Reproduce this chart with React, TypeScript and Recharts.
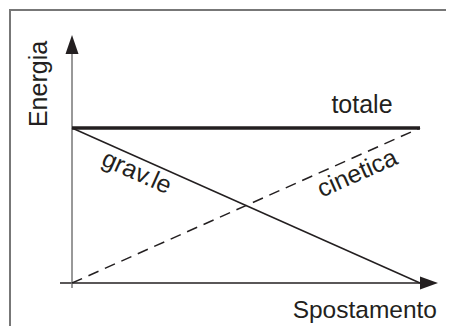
import React from "react";
import {
  LineChart,
  Line,
  XAxis,
  YAxis,
  ReferenceLine,
  Customized,
} from "recharts";

// positions along the displacement (normalised)
const spostamento = [0, 1];
// energy curves (normalised, totale = grav.le + cinetica)
const totale = [1, 1];
const gravitazionale = [1, 0];
const cinetica = [0, 1];

const data = spostamento.map((s, i) => ({
  s,
  totale: totale[i],
  grav: gravitazionale[i],
  cinetica: cinetica[i],
}));

const INK = "#231f20";
const FONT = "'Liberation Sans', Arial, sans-serif";

// axis line with an arrow head at its far end
function ArrowAxis(props: any) {
  const { x1, y1, x2, y2 } = props;
  const horizontal = Math.abs(x2 - x1) > Math.abs(y2 - y1);
  if (horizontal) {
    const left = Math.min(x1, x2);
    const tip = Math.max(x1, x2);
    const y = y1;
    return (
      <g>
        <line x1={left} y1={y} x2={tip - 10} y2={y} stroke={INK} strokeWidth={1.5} />
        <polygon points={`${tip},${y} ${tip - 18},${y - 6.5} ${tip - 18},${y + 6.5}`} fill={INK} />
      </g>
    );
  }
  const bottom = Math.max(y1, y2);
  const tip = Math.min(y1, y2);
  const x = x1;
  return (
    <g>
      <line x1={x} y1={bottom} x2={x} y2={tip + 10} stroke="#777" strokeWidth={1.5} />
      <polygon points={`${x},${tip} ${x - 6.5},${tip + 19} ${x + 6.5},${tip + 19}`} fill={INK} />
    </g>
  );
}

function Labels() {
  const t = { fontFamily: FONT, fontSize: 25, fill: INK };
  return (
    <g>
      <text {...t} transform="translate(47,84) rotate(-90)" textAnchor="middle">
        Energia
      </text>
      <text {...t} x={362} y={113} textAnchor="middle">
        totale
      </text>
      <text {...t} transform="translate(136,174) rotate(24)" y={6} textAnchor="middle">
        grav.le
      </text>
      <text {...t} transform="translate(358,175) rotate(-24)" y={6} textAnchor="middle">
        cinetica
      </text>
      <text {...t} fontSize={24.5} x={437} y={318} textAnchor="end">
        Spostamento
      </text>
    </g>
  );
}

export default function App() {
  return (
    <div style={{ position: "relative", margin: -8, width: 454, height: 334, overflow: "hidden", background: "#fff" }}>
      <div
        style={{
          position: "absolute",
          left: 9,
          top: 9,
          width: 470,
          height: 350,
          borderTop: "2px solid #777",
          borderLeft: "2px solid #777",
        }}
      />
      <div style={{ position: "absolute", left: 0, top: 0 }}>
        <LineChart
          width={454}
          height={334}
          data={data}
          margin={{ top: 35, right: 16, bottom: 46, left: 60 }}
        >
          <XAxis dataKey="s" type="number" domain={[-0.0345, 1.0517]} hide />
          <YAxis type="number" domain={[-0.032, 1.6]} hide />
          <ReferenceLine y={0} shape={<ArrowAxis />} ifOverflow="visible" />
          <ReferenceLine x={0} shape={<ArrowAxis />} ifOverflow="visible" />
          <Line
            dataKey="totale"
            stroke={INK}
            strokeWidth={3.5}
            dot={false}
            isAnimationActive={false}
          />
          <Line
            dataKey="grav"
            stroke={INK}
            strokeWidth={1.5}
            dot={false}
            isAnimationActive={false}
          />
          <Line
            dataKey="cinetica"
            stroke={INK}
            strokeWidth={1.5}
            strokeDasharray="11 7"
            dot={false}
            isAnimationActive={false}
          />
          <Customized component={<Labels />} />
        </LineChart>
      </div>
    </div>
  );
}
